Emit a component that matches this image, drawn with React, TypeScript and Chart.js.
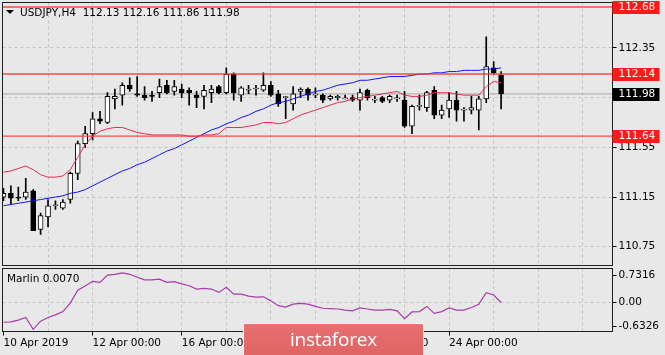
import React, { useEffect, useRef } from "react";
import { Chart, registerables } from "chart.js";
Chart.register(...registerables);

// ---- data ----
const SYMBOL = "USDJPY,H4";
const OPEN = [111.15,111.18,111.15,111.15,111.20,110.89,110.99,111.08,111.06,111.13,
111.34,111.58,111.66,111.78,111.75,111.94,111.97,112.05,111.98,111.97,
111.97,111.99,112.05,112.00,112.02,112.01,111.97,111.96,111.99,112.04,
111.99,112.14,111.97,112.01,112.02,112.01,112.05,111.98,111.95,111.90,
112.00,112.02,111.97,111.97,111.94,111.95,111.94,111.95,111.93,112.01,
111.93,111.95,111.93,111.94,111.93,111.72,111.88,111.87,112.01,111.81,
111.86,111.93,111.85,111.85,111.85,111.94,112.19,112.13];
const HIGH = [111.22,111.24,111.23,111.30,111.21,111.02,111.13,111.12,111.13,111.35,
111.60,111.72,111.83,111.84,111.99,112.02,112.07,112.11,112.12,112.04,
112.00,112.10,112.09,112.09,112.06,112.03,112.00,112.05,112.05,112.05,
112.19,112.15,112.04,112.05,112.05,112.15,112.08,112.01,111.96,112.04,
112.03,112.03,112.03,111.98,111.97,111.97,111.97,111.97,112.02,112.02,
111.96,111.96,111.97,111.97,112.00,111.89,111.97,112.00,112.04,111.89,
111.99,112.00,111.87,111.96,111.96,112.44,112.24,112.16];
const LOW = [111.12,111.09,111.12,111.13,110.88,110.85,110.91,111.05,111.05,111.10,
111.29,111.55,111.61,111.74,111.74,111.86,111.89,112.00,111.96,111.93,
111.92,111.95,111.98,111.97,111.95,111.89,111.87,111.86,111.91,111.98,
111.98,111.93,111.92,111.98,111.97,112.00,111.96,111.88,111.78,111.85,
111.95,111.93,111.95,111.91,111.93,111.93,111.94,111.92,111.85,111.93,
111.91,111.91,111.91,111.92,111.71,111.66,111.85,111.84,111.78,111.78,
111.79,111.76,111.76,111.82,111.69,111.91,112.14,111.86];
const CLOSE = [111.18,111.14,111.14,111.19,110.88,111.00,111.08,111.08,111.11,111.34,
111.58,111.66,111.78,111.76,111.96,111.96,112.05,112.02,111.97,111.95,
111.96,112.04,111.99,112.04,111.99,111.99,111.95,112.01,112.02,111.99,
112.14,111.99,112.03,112.01,112.02,112.05,111.97,111.90,111.95,111.98,
112.02,111.97,111.97,111.93,111.96,111.96,111.94,111.93,111.99,111.95,
111.93,111.92,111.96,111.94,111.72,111.88,111.88,111.99,111.81,111.85,
111.93,111.85,111.85,111.87,111.94,112.20,112.15,111.98];
const MA_FAST = [111.35,111.36,111.38,111.40,111.37,111.33,111.31,111.31,111.32,111.37,
111.47,111.57,111.64,111.68,111.70,111.71,111.71,111.69,111.67,111.66,
111.65,111.65,111.65,111.65,111.65,111.64,111.64,111.65,111.65,111.66,
111.71,111.71,111.71,111.72,111.73,111.75,111.75,111.74,111.75,111.78,
111.81,111.83,111.85,111.87,111.89,111.91,111.92,111.94,111.95,111.96,
111.97,111.98,111.99,112.00,111.97,111.96,111.96,111.97,111.99,111.99,
111.99,111.98,111.97,111.97,111.97,112.04,112.08,112.07];
const MA_SLOW = [111.08,111.09,111.10,111.11,111.12,111.13,111.14,111.15,111.16,111.18,
111.19,111.21,111.24,111.27,111.30,111.33,111.36,111.38,111.41,111.43,
111.46,111.49,111.52,111.54,111.57,111.60,111.63,111.66,111.69,111.71,
111.74,111.76,111.79,111.81,111.84,111.86,111.89,111.91,111.92,111.94,
111.96,111.98,112.00,112.01,112.03,112.05,112.06,112.07,112.09,112.09,
112.10,112.11,112.12,112.12,112.12,112.13,112.14,112.14,112.15,112.15,
112.16,112.16,112.17,112.17,112.17,112.18,112.18,112.19];
const MARLIN = [-0.53,-0.52,-0.47,-0.40,-0.72,-0.50,-0.40,-0.33,-0.24,-0.01,
0.34,0.45,0.58,0.55,0.75,0.77,0.81,0.77,0.69,0.62,
0.62,0.64,0.55,0.57,0.51,0.46,0.37,0.39,0.37,0.28,
0.42,0.23,0.23,0.18,0.15,0.16,0.05,-0.08,-0.12,-0.04,
-0.02,-0.04,-0.10,-0.15,-0.16,-0.17,-0.20,-0.22,-0.14,-0.17,
-0.20,-0.20,-0.18,-0.22,-0.43,-0.25,-0.24,-0.10,-0.29,-0.24,
-0.14,-0.20,-0.20,-0.13,-0.04,0.27,0.21,0.007];
const LEVELS = [112.68, 112.14, 111.64];
const PRICE_TICKS = [112.35, 111.95, 111.55, 111.15, 110.75];
const MARLIN_TICKS = [0.7316, 0, -0.6326];
const MARLIN_TICK_LABELS = ["0.7316", "0.00", "-0.6326"];
const DATE_IDX = [0, 12, 24, 36, 48, 60];
const DATE_LABELS = ["10 Apr 2019", "12 Apr 00:00", "16 Apr 00:00", "18 Apr 00:00", "22 Apr 00:00", "24 Apr 00:00"];
const GRID_IDX = [0, 6, 12, 18, 24, 30, 36, 42, 48, 54, 60, 66, 72, 78];
const WATERMARK = "instaforex";

// ---- view settings ----
const X_MIN = -0.13;
const X_MAX = 82.0;
const P_MIN = 110.599;
const P_MAX = 112.716;
const M_MIN = -0.78;
const M_MAX = 0.927;
const BG = "#e8e8e8";
const GRID = "#c4c4c4";
const FONT = { family: "'DejaVu Sans', sans-serif", size: 10.5 };
const FONT_CSS = "10.5px 'DejaVu Sans', sans-serif";

const framePlugin = {
  id: "frame",
  afterDraw(chart: any) {
    const { ctx, chartArea: a } = chart;
    ctx.save();
    ctx.strokeStyle = "#202020";
    ctx.lineWidth = 1;
    ctx.setLineDash([]);
    ctx.strokeRect(a.left, a.top, a.right - a.left, a.bottom - a.top);
    ctx.restore();
  },
};

const last = OPEN.length - 1;

const topPlugin = {
  id: "topdeco",
  afterDraw(chart: any) {
    const { ctx, chartArea: a } = chart;
    const ys = chart.scales.y;
    ctx.save();
    ctx.font = FONT_CSS;
    ctx.textBaseline = "middle";
    const box = (v: number, fill: string) => {
      const py = ys.getPixelForValue(v);
      ctx.fillStyle = fill;
      ctx.fillRect(a.right, Math.round(py) - 6, 47, 13);
      ctx.fillStyle = "#fff";
      ctx.textAlign = "left";
      ctx.fillText(v.toFixed(2), a.right + 6, Math.round(py) + 0.5);
    };
    LEVELS.forEach((v) => box(v, "#ff1a1a"));
    box(CLOSE[last], "#000");
    // header
    ctx.fillStyle = "#000";
    ctx.beginPath();
    ctx.moveTo(6, 10);
    ctx.lineTo(14, 10);
    ctx.lineTo(10, 14);
    ctx.closePath();
    ctx.fill();
    ctx.textBaseline = "alphabetic";
    ctx.fillText(
      `${SYMBOL}  ${OPEN[last].toFixed(2)} ${HIGH[last].toFixed(2)} ${LOW[last].toFixed(2)} ${CLOSE[last].toFixed(2)}`,
      20,
      16
    );
    ctx.restore();
  },
};

const botPlugin = {
  id: "botdeco",
  afterDraw(chart: any) {
    const { ctx } = chart;
    ctx.save();
    ctx.font = FONT_CSS;
    ctx.fillStyle = "#000";
    ctx.textBaseline = "alphabetic";
    ctx.fillText(`Marlin ${MARLIN[last].toFixed(4)}`, 7, 15);
    ctx.restore();
  },
};

export default function App() {
  const topRef = useRef<HTMLCanvasElement>(null);
  const botRef = useRef<HTMLCanvasElement>(null);

  useEffect(() => {
    const idx = OPEN.map((_, i) => i);
    const levelSets = LEVELS.map((v) => ({
      type: "line",
      data: [{ x: X_MIN, y: v }, { x: X_MAX, y: v }],
      borderColor: "rgba(255,45,45,0.85)",
      borderWidth: 1.4,
      pointRadius: 0,
      order: 0,
    }));
    const top = new Chart(topRef.current!, {
      type: "bar",
      data: {
        datasets: [
          ...levelSets,
          {
            type: "line",
            data: idx.map((i) => ({ x: i, y: MA_FAST[i] })),
            borderColor: "rgb(228,45,80)",
            borderWidth: 1,
            pointRadius: 0,
            tension: 0,
            order: 1,
          },
          {
            type: "line",
            data: idx.map((i) => ({ x: i, y: MA_SLOW[i] })),
            borderColor: "rgb(20,20,255)",
            borderWidth: 1,
            pointRadius: 0,
            tension: 0,
            order: 1,
          },
          {
            type: "bar",
            data: idx.map((i) => ({ x: i, y: [Math.min(OPEN[i], CLOSE[i]), Math.max(OPEN[i], CLOSE[i])] })),
            backgroundColor: idx.map((i) => (CLOSE[i] >= OPEN[i] ? "#ffffff" : "#000000")),
            borderColor: "#000",
            borderWidth: 1,
            borderSkipped: false,
            barThickness: 5,
            minBarLength: 1,
            grouped: false,
            order: 2,
          },
          {
            type: "bar",
            data: idx.map((i) => ({ x: i, y: [LOW[i], HIGH[i]] })),
            backgroundColor: "#000",
            borderWidth: 0,
            barThickness: 1,
            grouped: false,
            order: 3,
          },
          {
            type: "line",
            data: [{ x: X_MIN, y: CLOSE[last] }, { x: X_MAX, y: CLOSE[last] }],
            borderColor: "#a8a8a8",
            borderWidth: 1,
            pointRadius: 0,
            order: 4,
          },
        ] as any,
      },
      options: {
        responsive: false,
        animation: false,
        events: [],
        layout: { padding: { left: 2.5, top: 2.5, right: 0, bottom: 1.5 } },
        plugins: { legend: { display: false }, tooltip: { enabled: false } },
        scales: {
          x: {
            type: "linear",
            min: X_MIN,
            max: X_MAX,
            offset: false,
            afterBuildTicks: (s: any) => { s.ticks = GRID_IDX.filter((v) => v > 0).map((v) => ({ value: v })); },
            afterFit: (s: any) => { s.height = 0; s.paddingLeft = 0; s.paddingRight = 0; },
            ticks: { display: false },
            grid: { color: GRID, drawTicks: false, offset: false, lineWidth: 1 },
            border: { display: false, dash: [3, 3] },
          },
          y: {
            type: "linear",
            position: "right",
            min: P_MIN,
            max: P_MAX,
            afterBuildTicks: (s: any) => { s.ticks = PRICE_TICKS.map((v) => ({ value: v })); },
            afterFit: (s: any) => { s.width = 52.5; s.paddingTop = 0; s.paddingBottom = 0; },
            ticks: { color: "#000", padding: 2, font: FONT, callback: (v: any) => Number(v).toFixed(2) },
            grid: { color: GRID, tickColor: "#000", tickLength: 4, lineWidth: 1 },
            border: { display: false, dash: [3, 3] },
          },
        },
      } as any,
      plugins: [framePlugin, topPlugin],
    });

    const bot = new Chart(botRef.current!, {
      type: "line",
      data: {
        datasets: [
          {
            data: idx.map((i) => ({ x: i, y: MARLIN[i] })),
            borderColor: "rgb(170,60,170)",
            borderWidth: 1.2,
            pointRadius: 0,
            tension: 0,
          },
        ],
      },
      options: {
        responsive: false,
        animation: false,
        events: [],
        layout: { padding: { left: 2.5, top: 1.5, right: 0, bottom: 0 } },
        plugins: { legend: { display: false }, tooltip: { enabled: false } },
        scales: {
          x: {
            type: "linear",
            min: X_MIN,
            max: X_MAX,
            offset: false,
            afterBuildTicks: (s: any) => { s.ticks = GRID_IDX.map((v) => ({ value: v })); },
            afterFit: (s: any) => { s.height = 23.5; s.paddingLeft = 0; s.paddingRight = 0; },
            ticks: {
              autoSkip: false,
              maxRotation: 0,
              minRotation: 0,
              align: "start",
              padding: 1,
              color: "#000",
              font: FONT,
              callback: (v: any) => {
                const k = DATE_IDX.indexOf(Number(v));
                return k >= 0 ? DATE_LABELS[k] : "";
              },
            },
            grid: {
              color: (c: any) => (c.tick && c.tick.value === 0 ? "rgba(0,0,0,0)" : GRID),
              tickColor: (c: any) => (c.tick && DATE_IDX.indexOf(c.tick.value) >= 0 ? "#000" : "rgba(0,0,0,0)"),
              tickLength: 4,
              offset: false,
            },
            border: { display: false, dash: [3, 3] },
          },
          y: {
            type: "linear",
            position: "right",
            min: M_MIN,
            max: M_MAX,
            afterBuildTicks: (s: any) => { s.ticks = MARLIN_TICKS.map((v) => ({ value: v })); },
            afterFit: (s: any) => { s.width = 52.5; s.paddingTop = 0; s.paddingBottom = 0; },
            ticks: { color: "#000", padding: 2, font: FONT, callback: (_v: any, i: number) => MARLIN_TICK_LABELS[i] },
            grid: {
              color: (c: any) => (c.tick && c.tick.value === 0 ? GRID : "rgba(0,0,0,0)"),
              tickColor: "#000",
              tickLength: 4,
            },
            border: { display: false, dash: [3, 3] },
          },
        },
      } as any,
      plugins: [framePlugin, botPlugin],
    });

    return () => {
      top.destroy();
      bot.destroy();
    };
  }, []);

  return (
    <div style={{ position: "fixed", left: 0, top: 0, width: 665, height: 355, background: BG, overflow: "hidden" }}>
      <canvas ref={topRef} width={665} height={267} style={{ position: "absolute", left: 0, top: 0 }} />
      <canvas ref={botRef} width={665} height={88} style={{ position: "absolute", left: 0, top: 267 }} />
      <div
        style={{
          position: "absolute",
          left: 243,
          top: 323,
          width: 181,
          height: 34,
          background: "linear-gradient(#e87070, #df6464)",
          border: "1px solid #f2f2f2",
          borderRadius: 2,
          color: "#fff",
          fontFamily: "'Open Sans', sans-serif",
          fontSize: 19,
          letterSpacing: "-0.2px",
          lineHeight: "30px",
          textAlign: "center",
          boxSizing: "border-box",
        }}
      >
        {WATERMARK}
      </div>
    </div>
  );
}
